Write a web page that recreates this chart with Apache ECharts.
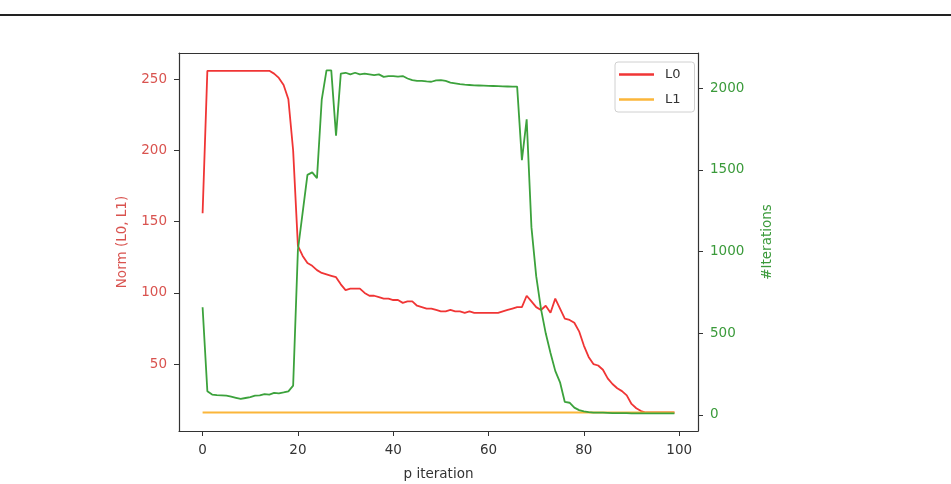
<!DOCTYPE html>
<html>
<head>
<meta charset="utf-8">
<script src="https://cdn.jsdelivr.net/npm/echarts@6/dist/echarts.min.js"></script>
<style>
  html, body { margin: 0; padding: 0; background: #fff; }
  #chart { width: 951px; height: 484px; }
</style>
</head>
<body>
<div id="chart"></div>
<script>
// p iteration 0..99
var iters = [];
for (var k = 0; k < 100; k++) iters.push(k);

// Norm L0
var l0 = [
  156, 256, 256, 256, 256, 256, 256, 256, 256, 256,
  256, 256, 256, 256, 256, 254, 251, 246, 236, 200,
  133, 126, 121, 119, 116, 114, 113, 112, 111, 106,
  102, 103, 103, 103, 100, 98, 98, 97, 96, 96,
  95, 95, 93, 94, 94, 91, 90, 89, 89, 88,
  87, 87, 88, 87, 87, 86, 87, 86, 86, 86,
  86, 86, 86, 87, 88, 89, 90, 90, 98, 94,
  90, 88, 91, 86, 96, 89, 82, 81, 79, 73,
  63, 55, 50, 49, 46, 40, 36, 33, 31, 28,
  22, 19, 17, 16, 16, 16, 16, 16, 16, 16
];

// Norm L1 (flat)
var l1 = [];
for (var k = 0; k < 100; k++) l1.push(16);

// #Iterations
var nIter = [
  660, 145, 125, 122, 120, 118, 112, 105, 98, 104,
  110, 118, 120, 128, 125, 135, 132, 138, 145, 180,
  1010, 1240, 1470, 1485, 1450, 1930, 2110, 2110, 1710, 2090,
  2095, 2085, 2095, 2085, 2090, 2085, 2080, 2085, 2070, 2075,
  2075, 2072, 2075, 2060, 2050, 2045, 2045, 2042, 2040, 2048,
  2050, 2045, 2035, 2030, 2025, 2022, 2020, 2018, 2017, 2016,
  2015, 2014, 2013, 2012, 2011, 2010, 2010, 1560, 1810, 1150,
  850, 650, 500, 380, 270, 200, 80, 75, 45, 30,
  22, 18, 15, 15, 14, 13, 12, 12, 11, 11,
  10, 10, 10, 10, 10, 10, 10, 10, 10, 10
];

var xTicks = [0, 20, 40, 60, 80, 100];
var leftTicks = [50, 100, 150, 200, 250];
var rightTicks = [0, 500, 1000, 1500, 2000];

function pairs(ys) {
  return iters.map(function (x, i) { return [x, ys[i]]; });
}

var dom = document.getElementById('chart');
var myChart = echarts.init(dom);
var font = 'DejaVu Sans';
var spine = { show: true, onZero: false, lineStyle: { color: '#333', width: 1.2 } };

var option = {
  backgroundColor: '#fff',
  animation: false,
  textStyle: { fontFamily: font },
  grid: { left: 179, right: 253, top: 53, bottom: 53, outerBoundsMode: 'none', containLabel: false },
  // 上方的分隔线
  graphic: [{
    type: 'rect',
    shape: { x: 0, y: 14, width: 951, height: 2 },
    style: { fill: '#222' }
  }],
  legend: {
    data: ['L0', 'L1'],
    orient: 'vertical',
    left: 615,
    top: 62,
    icon: 'rect',
    itemWidth: 35,
    itemHeight: 2.5,
    itemGap: 12,
    padding: [6, 14, 6, 4],
    borderColor: '#d0d0d0',
    borderWidth: 1,
    borderRadius: 3,
    textStyle: { fontFamily: font, fontSize: 13, color: '#333', padding: [0, 0, 0, 6] }
  },
  xAxis: [{
    type: 'value',
    min: -4.95,
    max: 103.95,
    name: 'p iteration',
    nameLocation: 'middle',
    nameGap: 36,
    nameTextStyle: { fontFamily: font, fontSize: 13.5, color: '#333' },
    axisLine: spine,
    axisTick: { show: true, length: 5, customValues: xTicks, lineStyle: { color: '#333' } },
    axisLabel: { customValues: xTicks, margin: 12, fontSize: 13.5, color: '#333', fontFamily: font },
    splitLine: { show: false }
  }, {
    type: 'value',
    position: 'top',
    min: -4.95,
    max: 103.95,
    axisLine: spine,
    axisTick: { show: false },
    axisLabel: { show: false },
    splitLine: { show: false }
  }],
  yAxis: [{
    type: 'value',
    position: 'left',
    min: 3,
    max: 268.5,
    name: 'Norm (L0, L1)',
    nameLocation: 'middle',
    nameGap: 50,
    nameTextStyle: { fontFamily: font, fontSize: 13.5, color: '#d9534f' },
    axisLine: spine,
    axisTick: { show: true, length: 5, customValues: leftTicks, lineStyle: { color: '#333' } },
    axisLabel: { customValues: leftTicks, margin: 12, fontSize: 13.5, color: '#d9534f', fontFamily: font },
    splitLine: { show: false }
  }, {
    type: 'value',
    position: 'right',
    min: -98,
    max: 2216,
    name: '#Iterations',
    nameLocation: 'middle',
    nameGap: 62,
    nameRotate: 90,
    nameTextStyle: { fontFamily: font, fontSize: 13.5, color: '#3a9a3a' },
    axisLine: spine,
    axisTick: { show: true, length: 5, customValues: rightTicks, lineStyle: { color: '#333' } },
    axisLabel: {
      customValues: rightTicks, margin: 12, fontSize: 13.5, color: '#3a9a3a', fontFamily: font,
      formatter: function (v) { return String(v); }
    },
    splitLine: { show: false }
  }],
  series: [{
    name: 'L0',
    type: 'line',
    yAxisIndex: 0,
    symbol: 'none',
    data: pairs(l0),
    lineStyle: { color: '#f03535', width: 1.8 },
    itemStyle: { color: '#f03535' }
  }, {
    name: 'L1',
    type: 'line',
    yAxisIndex: 0,
    symbol: 'none',
    data: pairs(l1),
    lineStyle: { color: '#fbb63a', width: 1.8 },
    itemStyle: { color: '#fbb63a' }
  }, {
    name: '#Iterations',
    type: 'line',
    yAxisIndex: 1,
    symbol: 'none',
    data: pairs(nIter),
    lineStyle: { color: '#3ca23c', width: 1.8 },
    itemStyle: { color: '#3ca23c' }
  }]
};

if (option && typeof option === "object") {
  myChart.setOption(option, true);
}
</script>
</body>
</html>
